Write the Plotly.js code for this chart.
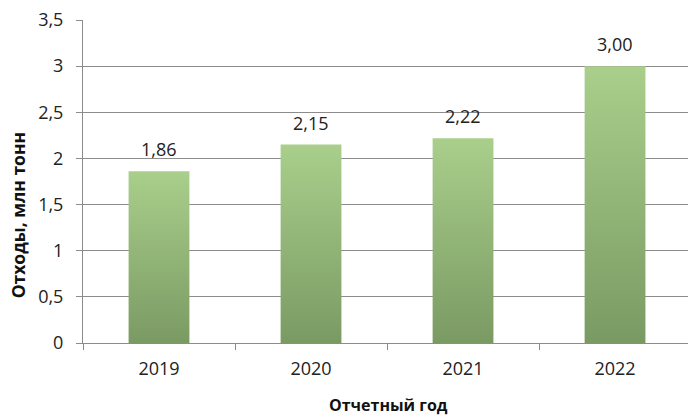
<!DOCTYPE html>
<html><head><meta charset="utf-8">
<script src="https://cdn.plot.ly/plotly-3.0.1.min.js"></script>
<style>html,body{margin:0;padding:0;background:#fff}</style>
</head><body>
<div id="chart" style="width:688px;height:416px"></div>
<script>
const years = ['2019', '2020', '2021', '2022'];
const waste = [1.86, 2.15, 2.22, 3.00];
const labels = ['1,86', '2,15', '2,22', '3,00'];
const yTicks = [0, 0.5, 1, 1.5, 2, 2.5, 3, 3.5];
const yTickText = ['0', '0,5', '1', '1,5', '2', '2,5', '3', '3,5'];

const FONT = 'Open Sans, sans-serif';
const trace = {
  type: 'bar', x: years, y: waste,
  marker: {color: '#92b878', line: {width: 0}},
  hoverinfo: 'none'
};
const annotations = years.map((yr, i) => ({
  x: i, y: waste[i], xref: 'x', yref: 'y', text: labels[i],
  showarrow: false, yanchor: 'bottom', yshift: 8,
  font: {family: FONT, size: 18, color: '#222'}
}));
annotations.push({
  text: '<b>Отходы, млн тонн</b>', xref: 'paper', yref: 'paper',
  x: -0.107, y: 0.396, textangle: -90, showarrow: false,
  xanchor: 'center', yanchor: 'middle',
  font: {family: FONT, size: 17.5, color: '#111'}
});
annotations.push({
  text: '<b>Отчетный год</b>', xref: 'paper', yref: 'paper',
  x: 0.505, y: -0.192, showarrow: false, xanchor: 'center', yanchor: 'middle',
  font: {family: FONT, size: 16, color: '#111'}
});
const layout = {
  width: 688, height: 416,
  margin: {l: 83, r: 0, t: 20, b: 73},
  paper_bgcolor: '#fff', plot_bgcolor: '#fff',
  showlegend: false, bargap: 0.6,
  xaxis: {
    type: 'category', range: [-0.5, 3.48],
    showline: true, linecolor: '#8c8c8c', linewidth: 1,
    ticks: 'outside', tickson: 'boundaries', ticklen: 6, tickcolor: '#8c8c8c',
    showgrid: false, zeroline: false, ticklabelstandoff: 9,
    tickfont: {family: FONT, size: 18, color: '#222'}
  },
  yaxis: {
    range: [0, 3.5], tickvals: yTicks, ticktext: yTickText,
    showline: true, linecolor: '#8c8c8c', linewidth: 1,
    ticks: 'outside', ticklen: 6, tickcolor: '#8c8c8c',
    showgrid: true, gridcolor: '#8c8c8c', gridwidth: 1, zeroline: false,
    ticklabelstandoff: 9,
    tickfont: {family: FONT, size: 18, color: '#222'}
  },
  annotations: annotations
};
Plotly.newPlot('chart', [trace], layout, {displayModeBar: false, staticPlot: true}).then(() => {
  const svg = document.querySelector('#chart svg.main-svg');
  const ns = 'http://www.w3.org/2000/svg';
  let defs = svg.querySelector('defs');
  if (!defs) { defs = document.createElementNS(ns, 'defs'); svg.insertBefore(defs, svg.firstChild); }
  const g = document.createElementNS(ns, 'linearGradient');
  g.setAttribute('id', 'barGrad');
  g.setAttribute('x1', '0'); g.setAttribute('y1', '0');
  g.setAttribute('x2', '0'); g.setAttribute('y2', '1');
  [['0', '#a9cf8b'], ['1', '#7a9a63']].forEach(([o, c]) => {
    const s = document.createElementNS(ns, 'stop');
    s.setAttribute('offset', o); s.setAttribute('stop-color', c);
    g.appendChild(s);
  });
  defs.appendChild(g);
  document.querySelectorAll('#chart .bars .point path').forEach(p => {
    p.style.fill = 'url(#barGrad)';
  });
});
</script>
</body></html>
